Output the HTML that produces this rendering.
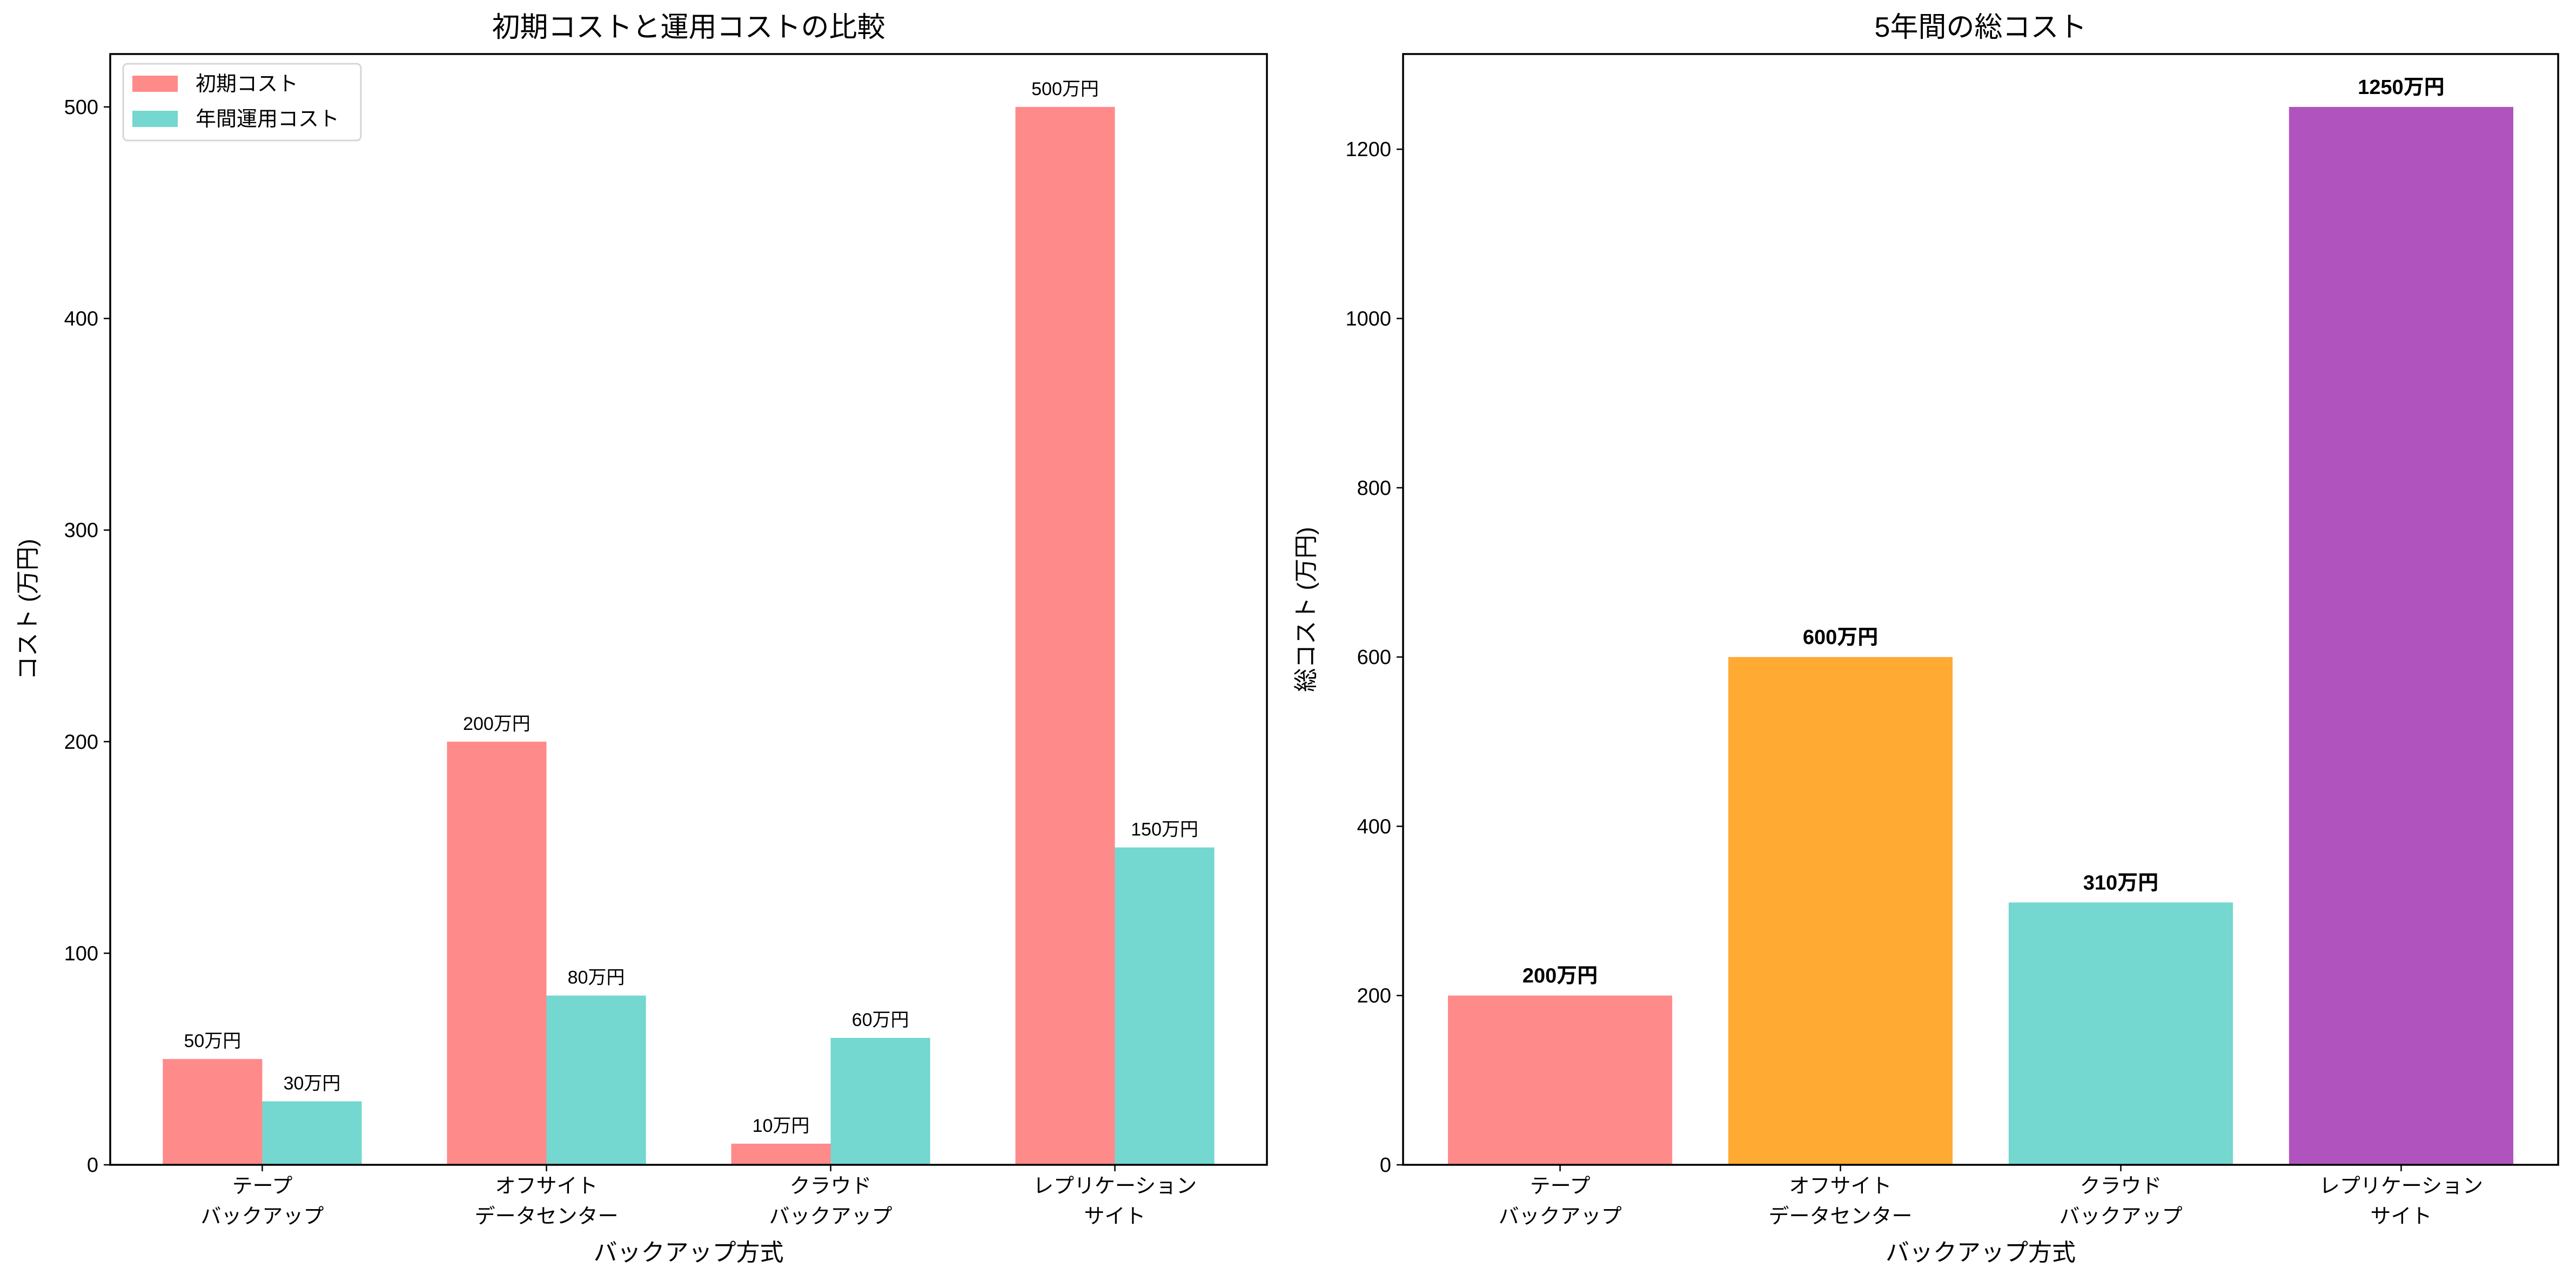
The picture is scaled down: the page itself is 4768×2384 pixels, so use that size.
<!DOCTYPE html>
<html><head><meta charset="utf-8"><style>
body{margin:0;background:#fff}
text{font-family:"Liberation Sans","Noto Sans CJK JP",sans-serif;fill:#000}
</style></head><body>
<svg id="c" xmlns="http://www.w3.org/2000/svg" width="4768" height="2379">
<rect width="4768" height="2379" fill="#fff"/>
<g id="g"></g>
</svg>
<script>
const categories=[["テープ","バックアップ"],["オフサイト","データセンター"],["クラウド","バックアップ"],["レプリケーション","サイト"]];
const initialCost=[50,200,10,500];
const annualCost=[30,80,60,150];
const totalCost=[200,600,310,1250];
const leftTicks=[0,100,200,300,400,500];
const rightTicks=[0,200,400,600,800,1000,1200];
const totalColors=["#FF8A8A","#FFAA33","#74D7D0","#B053BE"];
const NS="http://www.w3.org/2000/svg";
const g=document.getElementById('g');
function el(tag,attrs,parent){const e=document.createElementNS(NS,tag);for(const k in attrs)e.setAttribute(k,attrs[k]);(parent||g).appendChild(e);return e;}
function txt(s,attrs){const e=el('text',attrs);e.textContent=s;return e;}
const T=100,B=2156;
// left axes
const L={x0:204,x1:2345,xmin:-0.535,xmax:3.535,ymax:525};
const R={x0:2597,x1:4735,xmin:-0.56,xmax:3.56,ymax:1312.5};
function sx(a,v){return a.x0+(v-a.xmin)/(a.xmax-a.xmin)*(a.x1-a.x0);}
function sy(a,v){return B-v/a.ymax*(B-T);}
// left bars
const bw=0.35;
for(let i=0;i<categories.length;i++){
  const x1=sx(L,i-bw),x2=sx(L,i),x3=sx(L,i+bw);
  let r=el('rect',{x:x1,y:sy(L,initialCost[i]),width:x2-x1,height:B-sy(L,initialCost[i]),fill:"#FF8A8A"});
  
  
  r=el('rect',{x:x2,y:sy(L,annualCost[i]),width:x3-x2,height:B-sy(L,annualCost[i]),fill:"#74D7D0"});
  
  
  let t=txt(initialCost[i]+"万円",{x:(x1+x2)/2,y:sy(L,initialCost[i])-22,'font-size':34,'text-anchor':'middle'});
  
  
  t=txt(annualCost[i]+"万円",{x:(x2+x3)/2,y:sy(L,annualCost[i])-22,'font-size':34,'text-anchor':'middle'});
  
  
}
// right bars
for(let i=0;i<categories.length;i++){
  const x1=sx(R,i-0.4),x2=sx(R,i+0.4);
  let r=el('rect',{x:x1,y:sy(R,totalCost[i]),width:x2-x1,height:B-sy(R,totalCost[i]),fill:totalColors[i]});
  
  
  let t=txt(totalCost[i]+"万円",{x:(x1+x2)/2,y:sy(R,totalCost[i])-24,'font-size':38,'font-weight':'bold','text-anchor':'middle'});
  
  
}
function axes(a,ticks,title,ylabel,ylx){
  let f=el('rect',{x:a.x0,y:T,width:a.x1-a.x0,height:B-T,fill:'none',stroke:'#000','stroke-width':3.5});
  
  
  ticks.forEach(v=>{const y=sy(a,v);el('line',{x1:a.x0-12,x2:a.x0,y1:y,y2:y,stroke:'#000','stroke-width':2.5});
    const t=txt(String(v),{x:a.x0-22,y:y+13,'font-size':38,'text-anchor':'end'});
    
    });
  categories.forEach((c,i)=>{const x=sx(a,i);el('line',{x1:x,x2:x,y1:B,y2:B+12,stroke:'#000','stroke-width':2.5});
    c.forEach((s,j)=>{const t=txt(s,{x:x,y:B+52+j*56,'font-size':38,'text-anchor':'middle'});
      
      });});
  let t=txt(title,{x:(a.x0+a.x1)/2,y:68,'font-size':52,'text-anchor':'middle'});
  
  
  t=txt("バックアップ方式",{x:(a.x0+a.x1)/2,y:2333,'font-size':44,'text-anchor':'middle'});
  
  
  t=txt(ylabel,{x:ylx,y:(T+B)/2,'font-size':44,'text-anchor':'middle',transform:`rotate(-90 ${ylx} ${(T+B)/2})`});
  
  
}
axes(L,leftTicks,"初期コストと運用コストの比較","コスト (万円)",66);
axes(R,rightTicks,"5年間の総コスト","総コスト (万円)",2432);
// legend
const lg=el('g',{});


el('rect',{x:228,y:118,width:440,height:142,rx:8,fill:'#fff',stroke:'#d6d6d6','stroke-width':3},lg);
el('rect',{x:245,y:140,width:84,height:30,fill:'#FF8A8A'},lg);
el('rect',{x:245,y:205,width:84,height:30,fill:'#74D7D0'},lg);
let t1=txt("初期コスト",{x:362,y:168,'font-size':38});lg.appendChild(t1);


let t2=txt("年間運用コスト",{x:362,y:233,'font-size':38});lg.appendChild(t2);


</script>
</body></html>
